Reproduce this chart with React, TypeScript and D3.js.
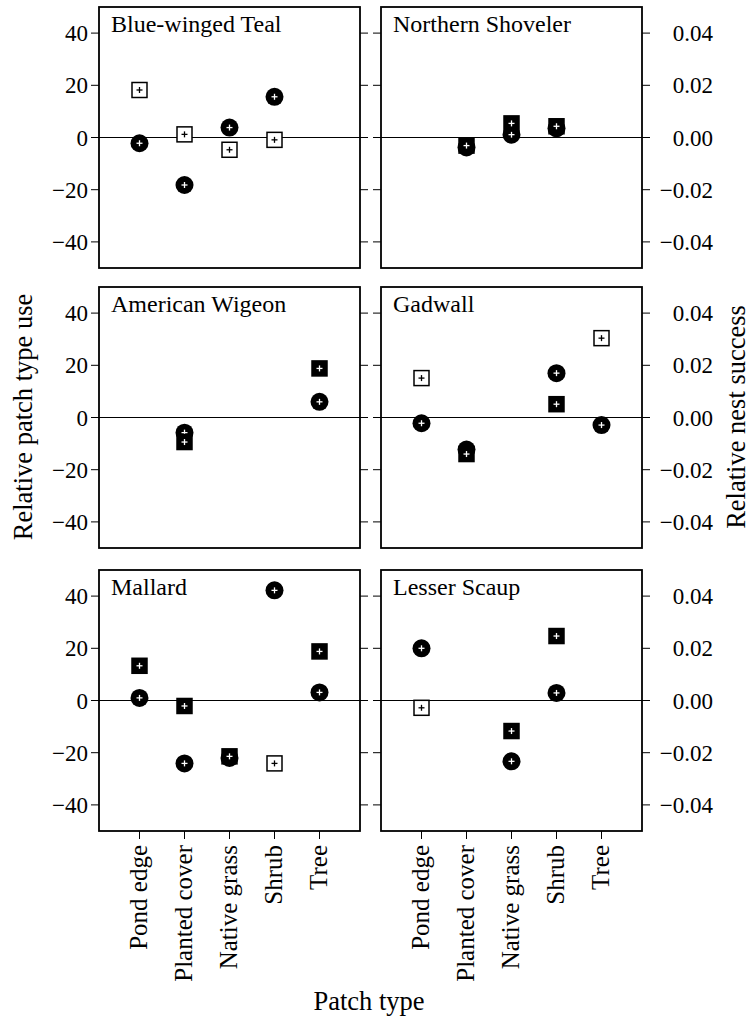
import React from "react";
import * as d3 from "d3";

const categories = ["Pond edge", "Planted cover", "Native grass", "Shrub", "Tree"];
const species = [
  "Blue-winged Teal",
  "Northern Shoveler",
  "American Wigeon",
  "Gadwall",
  "Mallard",
  "Lesser Scaup",
];

// Relative patch type use (circles, left axis)
const useBWT = [-2.2, -18.2, 3.8, 15.6, null];
const useNSHO = [null, -3.8, 1.1, 3.5, null];
const useAMWI = [null, -5.8, null, null, 6.0];
const useGADW = [-2.2, -12.3, null, 17.0, -2.9];
const useMALL = [1.0, -24.1, -22.0, 42.2, 3.1];
const useLESC = [20.0, null, -23.3, 2.9, null];

// Relative nest success (squares, right axis)
const nestBWT = [0.0182, 0.0012, -0.0047, -0.0009, null];
const nestNSHO = [null, -0.0031, 0.0054, 0.0043, null];
const nestAMWI = [null, -0.0094, null, null, 0.0188];
const nestGADW = [0.0151, -0.014, null, 0.0051, 0.0304];
const nestMALL = [0.0133, -0.0021, -0.0214, -0.0241, 0.0188];
const nestLESC = [-0.0028, null, -0.0117, 0.0247, null];

// Filled squares (true) vs open squares (false)
const filledBWT = [false, false, false, false, false];
const filledNSHO = [true, true, true, true, true];
const filledAMWI = [true, true, true, true, true];
const filledGADW = [false, true, true, true, false];
const filledMALL = [true, true, true, false, true];
const filledLESC = [false, true, true, true, true];

const useSeries = [useBWT, useNSHO, useAMWI, useGADW, useMALL, useLESC];
const nestSeries = [nestBWT, nestNSHO, nestAMWI, nestGADW, nestMALL, nestLESC];
const filledSeries = [filledBWT, filledNSHO, filledAMWI, filledGADW, filledMALL, filledLESC];

const useTicks = [-40, -20, 0, 20, 40];
const nestTicks = [-0.04, -0.02, 0, 0.02, 0.04];

const FONT = "'Liberation Serif', 'Times New Roman', serif";
const PW = 261;
const PH = 261;
const colX = [99, 381];
const rowY = [7, 287, 570];
const TICK = 8;
const R = 9;
const SQ = 15;
const PLUS = 3;

function Plus({ x, y, color }: { x: number; y: number; color: string }) {
  return (
    <g stroke={color} strokeWidth={1.3}>
      <line x1={x - PLUS} x2={x + PLUS} y1={y} y2={y} />
      <line x1={x} x2={x} y1={y - PLUS} y2={y + PLUS} />
    </g>
  );
}

function Panel({ idx }: { idx: number }) {
  const col = idx % 2;
  const row = Math.floor(idx / 2);
  const x0 = colX[col];
  const y0 = rowY[row];
  const x = d3.scalePoint<string>().domain(categories).range([x0, x0 + PW]).padding(0.9);
  const yUse = d3.scaleLinear().domain([-50, 50]).range([y0 + PH, y0]);
  const yNest = d3.scaleLinear().domain([-0.05, 0.05]).range([y0 + PH, y0]);
  const fmtNest = d3.format(".2f");
  const fmtUse = d3.format("d");
  const uses = useSeries[idx];
  const nests = nestSeries[idx];
  const filled = filledSeries[idx];
  const isBottom = row === 2;

  return (
    <g>
      <line x1={x0} x2={x0 + PW} y1={yUse(0)} y2={yUse(0)} stroke="#000" strokeWidth={1} />
      {useTicks.map((t) => (
        <g key={"l" + t}>
          <line x1={x0 - TICK} x2={x0} y1={yUse(t)} y2={yUse(t)} stroke="#000" strokeWidth={1} />
          <line x1={x0 + PW} x2={x0 + PW + TICK} y1={yUse(t)} y2={yUse(t)} stroke="#000" strokeWidth={1} />
          {col === 0 && (
            <text x={x0 - TICK - 3} y={yUse(t)} dy="0.35em" textAnchor="end" fontSize={23} fontFamily={FONT}>
              {fmtUse(t)}
            </text>
          )}
        </g>
      ))}
      {col === 1 &&
        nestTicks.map((t) => (
          <text key={"r" + t} x={x0 + PW + 71} y={yNest(t)} dy="0.35em" textAnchor="end" fontSize={23} fontFamily={FONT}>
            {fmtNest(t)}
          </text>
        ))}
      {isBottom &&
        categories.map((c) => (
          <g key={c}>
            <line x1={x(c)!} x2={x(c)!} y1={y0 + PH} y2={y0 + PH + TICK} stroke="#000" strokeWidth={1} />
            <text
              transform={`translate(${x(c)! + 7},${y0 + PH + 14}) rotate(-90)`}
              textAnchor="end"
              fontSize={25}
              fontFamily={FONT}
            >
              {c}
            </text>
          </g>
        ))}
      {uses.map((v, i) =>
        v == null ? null : (
          <g key={"c" + i}>
            <circle cx={x(categories[i])!} cy={yUse(v)} r={R} fill="#000" />
            <Plus x={x(categories[i])!} y={yUse(v)} color="#fff" />
          </g>
        )
      )}
      {nests.map((v, i) =>
        v == null ? null : (
          <g key={"s" + i}>
            <rect
              x={x(categories[i])! - SQ / 2}
              y={yNest(v) - SQ / 2}
              width={SQ}
              height={SQ}
              fill={filled[i] ? "#000" : "#fff"}
              stroke="#000"
              strokeWidth={1.5}
            />
            <Plus x={x(categories[i])!} y={yNest(v)} color={filled[i] ? "#fff" : "#000"} />
          </g>
        )
      )}
      <rect x={x0} y={y0} width={PW} height={PH} fill="none" stroke="#000" strokeWidth={1.8} />
      <text x={x0 + 12} y={y0 + 25} fontSize={24} fontFamily={FONT}>
        {species[idx]}
      </text>
    </g>
  );
}

export default function App() {
  return (
    <svg
      width={752}
      height={1022}
      style={{ position: "absolute", left: 0, top: 0, background: "#fff" }}
    >
      <rect width={752} height={1022} fill="#fff" />
      {species.map((s, i) => (
        <Panel key={s} idx={i} />
      ))}
      <text transform="translate(32,417) rotate(-90)" textAnchor="middle" fontSize={26.5} fontFamily={FONT}>
        Relative patch type use
      </text>
      <text transform="translate(745,417) rotate(-90)" textAnchor="middle" fontSize={26.5} fontFamily={FONT}>
        Relative nest success
      </text>
      <text x={369} y={1010} textAnchor="middle" fontSize={26.5} fontFamily={FONT}>
        Patch type
      </text>
    </svg>
  );
}
